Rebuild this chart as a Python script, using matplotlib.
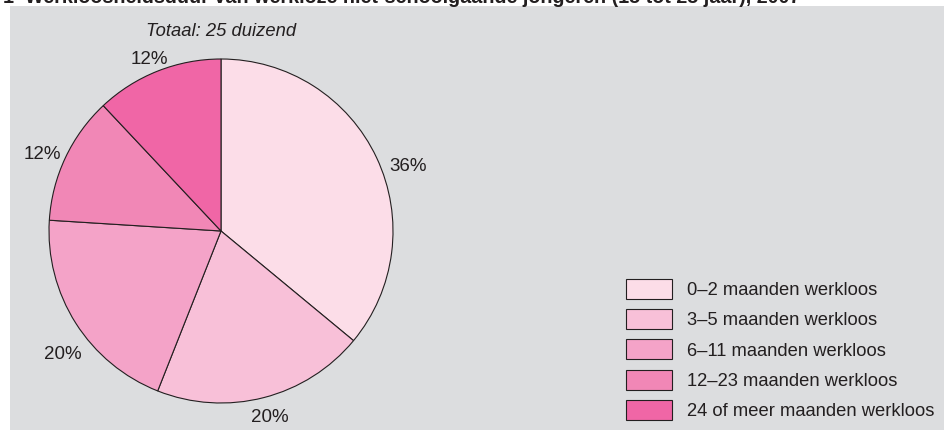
import matplotlib.pyplot as plt
from matplotlib.patches import Rectangle, Patch

plt.rcParams['font.family'] = ['Liberation Sans', 'DejaVu Sans']

# data
categories = ['0–2 maanden werkloos', '3–5 maanden werkloos', '6–11 maanden werkloos',
              '12–23 maanden werkloos', '24 of meer maanden werkloos']
shares = [36, 20, 20, 12, 12]
colors = ['#fcdde8', '#f8c0d8', '#f4a3c8', '#f187b6', '#f066a6']
title = '1  Werkloosheidsduur van werkloze niet-schoolgaande jongeren (15 tot 25 jaar), 2007'
subtitle = 'Totaal: 25 duizend'

# small label nudges (px: right, down)
nudge = [(11, 18), (0, -2), (6, 19), (-3, 6), (0, 9)]

W, H = 944, 430
fs = 13.2
ink = '#231f20'
fig = plt.figure(figsize=(W / 100, H / 100), dpi=100)
fig.patch.set_facecolor('white')

# grey panel
fig.patches.append(Rectangle((10 / W, 0), 1 - 10 / W, 1 - 6 / H, transform=fig.transFigure,
                             facecolor='#dcdddf', edgecolor='none', zorder=-10))

fig.text(3 / W, 1 - 3 / H, title, fontsize=14.2, fontweight='bold', color=ink,
         va='baseline', ha='left')

# pie axes: centre (221, 231) px from top, radius 172 px
cx, cy, r = 221, H - 231, 172
ax = fig.add_axes([(cx - r) / W, (cy - r) / H, 2 * r / W, 2 * r / H])
ax.set_facecolor('none')
wedges, texts = ax.pie(shares, colors=colors, startangle=90, counterclock=False,
                       labels=[f'{s}%' for s in shares], labeldistance=1.13,
                       wedgeprops=dict(edgecolor=ink, linewidth=0.8),
                       textprops=dict(fontsize=13.5, color=ink))
for t, (dx, dy) in zip(texts, nudge):
    x, y = t.get_position()
    t.set_position((x + dx / r, y - dy / r))
    t.set_ha('center')
    t.set_va('center')
ax.set_xlim(-1, 1)
ax.set_ylim(-1, 1)
ax.set_aspect('equal')
ax.axis('off')

fig.text(cx / W, 1 - 31 / H, subtitle, fontsize=fs, style='italic', color=ink,
         ha='center', va='center')

handles = [Patch(facecolor=c, edgecolor=ink, linewidth=0.8) for c in colors]
fig.legend(handles, categories, loc='upper left', bbox_to_anchor=(626 / W, 1 - 279 / H),
           frameon=False, fontsize=fs, borderpad=0, borderaxespad=0,
           handlelength=2.5, handleheight=1.3, handletextpad=0.85, labelspacing=0.55,
           labelcolor=ink)

fig.savefig('out.png', dpi=100)
